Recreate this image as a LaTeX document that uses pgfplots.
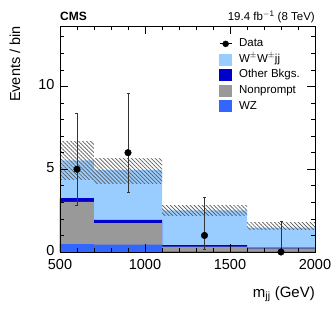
\documentclass[border=0pt]{standalone}
\usepackage{fontspec}
\setmainfont{Liberation Sans}
\usepackage{pgfplots}
\pgfplotsset{compat=1.18}
\usetikzlibrary{patterns.meta}
\definecolor{wwcol}{HTML}{99CCFF}
\definecolor{othcol}{HTML}{0000CC}
\definecolor{npcol}{HTML}{999999}
\definecolor{wzcol}{HTML}{3366FF}
\begin{document}
\begin{tikzpicture}
\path[use as bounding box] (-60pt,-64pt) rectangle (272pt,252pt);
\begin{axis}[
  at={(0,0)}, anchor=south west,
  scale only axis, width=255pt, height=226pt,
  xmin=500, xmax=2000, ymin=0, ymax=13.65,
  xtick={500,1000,1500,2000},
  ytick={0,5,10},
  minor xtick={600,700,800,900,1100,1200,1300,1400,1600,1700,1800,1900},
  minor ytick={1,2,3,4,6,7,8,9,11,12,13},
  tick align=inside,
  xtick pos=both, ytick pos=both,
  major tick length=8pt, minor tick length=4pt,
  every tick/.style={black, line width=0.6pt},
  axis line style={line width=0.8pt},
  axis on top,
  clip=false,
  /pgf/number format/assume math mode=true,
  /pgf/number format/1000 sep={},
  tick label style={font=\fontsize{14.5}{16}\selectfont},
  xticklabel style={yshift=-7.5pt, inner sep=0pt},
  yticklabel style={xshift=-2pt, yshift=1.5pt},
  legend style={at={(rel axis cs:0.612,0.955)}, anchor=north west, draw=none, fill=none,
    font=\fontsize{11.5}{13}\selectfont, row sep=4.2pt,
    nodes={inner sep=0pt, text height=8.5pt, text depth=2.5pt},
    /tikz/every odd column/.append style={column sep=7pt}},
  legend cell align=left,
]
\addlegendimage{legend image code/.code={\draw[black,line width=0.8pt] (0pt,0pt) -- (12pt,0pt); \fill[black] (6pt,0pt) circle (3pt);}}
\addlegendentry{Data}
\addlegendimage{legend image code/.code={\fill[wwcol] (0pt,-5.5pt) rectangle (12pt,5.5pt);}}
\addlegendentry{W$^{\pm}$W$^{\pm}$jj}
\addlegendimage{legend image code/.code={\fill[othcol] (0pt,-5.5pt) rectangle (12pt,5.5pt);}}
\addlegendentry{Other Bkgs.}
\addlegendimage{legend image code/.code={\fill[npcol] (0pt,-5.5pt) rectangle (12pt,5.5pt);}}
\addlegendentry{Nonprompt}
\addlegendimage{legend image code/.code={\fill[wzcol] (0pt,-5.5pt) rectangle (12pt,5.5pt);}}
\addlegendentry{WZ}

% stacked (cumulative) histograms
\addplot[forget plot, const plot, fill=wwcol, draw=none] coordinates {(500,5.54)(700,4.94)(1100,2.52)(1600,1.47)(2000,1.47)} \closedcycle;
\addplot[forget plot, const plot, fill=othcol, draw=none] coordinates {(500,3.25)(700,1.94)(1100,0.42)(1600,0.27)(2000,0.27)} \closedcycle;
\addplot[forget plot, const plot, fill=npcol, draw=none] coordinates {(500,3.02)(700,1.75)(1100,0.33)(1600,0.22)(2000,0.22)} \closedcycle;
\addplot[forget plot, const plot, fill=wzcol, draw=none] coordinates {(500,0.47)(700,0.45)(1100,0.04)(1600,0.02)(2000,0.02)} \closedcycle;

% uncertainty bands
\addplot[forget plot, draw=none, pattern={Lines[angle=-45,distance=2.8pt,line width=0.7pt]}, pattern color=black!65] coordinates {(500,4.38)(500,6.68)(700,6.68)(700,4.38)} --cycle;
\addplot[forget plot, draw=none, pattern={Lines[angle=-45,distance=2.8pt,line width=0.7pt]}, pattern color=black!65] coordinates {(700,4.12)(700,5.65)(1100,5.65)(1100,4.12)} --cycle;
\addplot[forget plot, draw=none, pattern={Lines[angle=-45,distance=2.8pt,line width=0.7pt]}, pattern color=black!65] coordinates {(1100,2.2)(1100,2.82)(1600,2.82)(1600,2.2)} --cycle;
\addplot[forget plot, draw=none, pattern={Lines[angle=-45,distance=2.8pt,line width=0.7pt]}, pattern color=black!65] coordinates {(1600,1.37)(1600,1.81)(2000,1.81)(2000,1.37)} --cycle;

% data
\addplot[forget plot, only marks, mark=*, mark size=3.3pt, black,
  error bars/.cd, y dir=both, y explicit,
  error bar style={line width=0.7pt, black!80},
  error mark options={rotate=90, mark size=1.5pt, black!80}]
  coordinates {
  (600,5) += (0,3.38) -= (0,2.16)
  (900,6) += (0,3.58) -= (0,2.38)
  (1350,1) += (0,2.30) -= (0,0.83)
  (1800,0) += (0,1.84) -= (0,0)
  };

\node[anchor=base west, font=\bfseries\fontsize{12}{14}\selectfont, inner sep=0pt] at ([yshift=6pt]rel axis cs:0,1) {CMS};
\node[anchor=base east, font=\fontsize{11.5}{13}\selectfont, inner sep=0pt] at ([yshift=5.5pt]rel axis cs:1,1) {19.4 fb$^{\mathrm{-1}}$ (8 TeV)};
\node[anchor=east, rotate=90, font=\fontsize{14.5}{16}\selectfont, inner sep=0pt] at ([xshift=-45pt]rel axis cs:0,1) {Events / bin};
\node[anchor=base east, font=\fontsize{15}{17}\selectfont, inner sep=0pt] at ([yshift=-45pt]rel axis cs:1,0) {m$_{\mathrm{jj}}$ (GeV)};
\end{axis}
\end{tikzpicture}
\end{document}
